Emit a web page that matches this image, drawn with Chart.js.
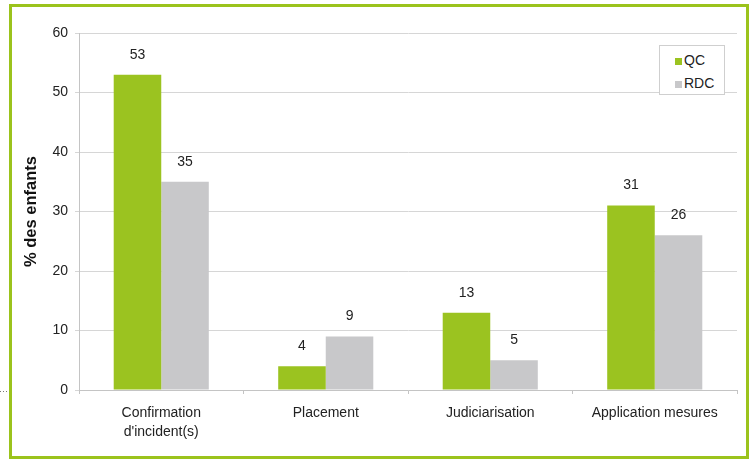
<!DOCTYPE html>
<html>
<head>
<meta charset="utf-8">
<script src="https://cdn.jsdelivr.net/npm/chart.js@4"></script>
<style>
  body { margin: 0; background: #fff; }
  #wrap { position: relative; width: 749px; height: 460px; }
  #legend {
    position: absolute; left: 659px; top: 45px; width: 66px; height: 50px;
    border: 1px solid #cfcfcf; background: #fff; box-sizing: border-box;
    font: 14px "Liberation Sans", Arial, sans-serif; color: #222;
    padding: 6px 0 0 15px;
  }
  #legend div { height: 23px; line-height: 16px; }
  #legend span { display: inline-block; width: 7px; height: 7px; margin-right: 2px; }
</style>
</head>
<body>
<div id="wrap">
  <canvas id="myChart" width="749" height="460"></canvas>
  <div id="legend"></div>
</div>
<script>
const categories = [['Confirmation', "d'incident(s)"], 'Placement', 'Judiciarisation', 'Application mesures'];
const qcValues = [53, 4, 13, 31];
const rdcValues = [35, 9, 5, 26];
const yTicks = [0, 10, 20, 30, 40, 50, 60];

const green = '#9bc320';
const grey = '#c8c8ca';

// border + small dotted mark at the left, values above bars
const extras = {
  id: 'extras',
  beforeDraw(chart) {
    const ctx = chart.ctx;
    ctx.save();
    ctx.strokeStyle = '#9bc31c';
    ctx.lineWidth = 3;
    ctx.strokeRect(10.5, 5.5, 737, 452);
    ctx.strokeStyle = '#777';
    ctx.lineWidth = 1;
    ctx.setLineDash([1, 2]);
    ctx.beginPath();
    ctx.moveTo(0, 391.5);
    ctx.lineTo(8, 391.5);
    ctx.stroke();
    ctx.restore();
  },
  afterDatasetsDraw(chart) {
    const ctx = chart.ctx;
    ctx.save();
    ctx.font = '14px "Liberation Sans", Arial, sans-serif';
    ctx.fillStyle = '#222';
    ctx.textAlign = 'center';
    ctx.textBaseline = 'middle';
    chart.data.datasets.forEach((ds, i) => {
      chart.getDatasetMeta(i).data.forEach((bar, j) => {
        ctx.fillText(ds.data[j], bar.x, bar.y - 20);
      });
    });
    ctx.restore();
  }
};

const ctx = document.getElementById('myChart').getContext('2d');
const myChart = new Chart(ctx, {
  type: 'bar',
  data: {
    labels: categories,
    datasets: [
      { label: 'QC', data: qcValues, backgroundColor: green, barPercentage: 1, categoryPercentage: 0.578 },
      { label: 'RDC', data: rdcValues, backgroundColor: grey, barPercentage: 1, categoryPercentage: 0.578 }
    ]
  },
  options: {
    responsive: false,
    animation: false,
    layout: { padding: { left: 0, top: 33, right: 12, bottom: 0 } },
    plugins: { legend: { display: false }, tooltip: { enabled: false } },
    scales: {
      y: {
        min: 0, max: 60,
        afterFit(scale) { scale.width = 79; },
        afterBuildTicks(scale) { scale.ticks = yTicks.map(v => ({ value: v })); },
        grid: { color: '#d6d6d6', tickLength: 4 },
        border: { color: '#c4c4c4' },
        ticks: { padding: 7, color: '#222', font: { family: '"Liberation Sans", Arial, sans-serif', size: 14 } },
        title: {
          display: true, text: '% des enfants', color: '#111',
          padding: { top: 22, bottom: 0 },
          font: { family: '"Liberation Sans", Arial, sans-serif', size: 16.5, weight: 'bold' }
        }
      },
      x: {
        afterFit(scale) { scale.height = 70; },
        grid: { offset: true, drawOnChartArea: false, tickLength: 4, color: '#c4c4c4' },
        border: { color: '#c4c4c4' },
        ticks: { padding: 10, color: '#222', maxRotation: 0, font: { family: '"Liberation Sans", Arial, sans-serif', size: 14, lineHeight: 1.35 } }
      }
    }
  },
  plugins: [extras]
});

const legend = document.getElementById('legend');
myChart.data.datasets.forEach(ds => {
  const row = document.createElement('div');
  const sw = document.createElement('span');
  sw.style.background = ds.backgroundColor;
  row.appendChild(sw);
  row.appendChild(document.createTextNode(ds.label));
  legend.appendChild(row);
});
</script>
</body>
</html>
